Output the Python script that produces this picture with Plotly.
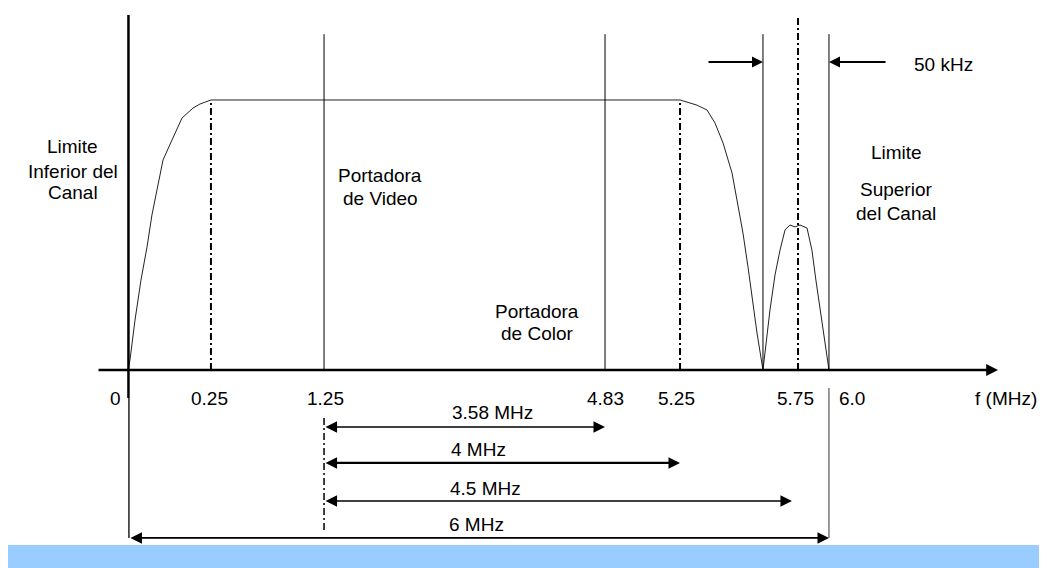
import plotly.graph_objects as go

# ---------------- data (schematic, not-to-scale drawing units) ----------------
# Frequency marks shown under the axis and where they sit on the schematic axis
tick_labels = ["0", "0.25", "1.25", "4.83", "5.25", "5.75", "6.0"]
tick_pos = [0.0, 0.71, 1.678, 4.083, 4.725, 5.735, 6.0]

# Channel response curve (relative amplitude)
curve_x = [0.000, 0.017, 0.060, 0.111, 0.163, 0.205, 0.248, 0.300, 0.377, 0.462,
           0.556, 0.616, 0.710,
           4.725, 4.870, 4.956, 5.024, 5.093, 5.170, 5.213, 5.264, 5.307, 5.384, 5.435,
           5.495, 5.538, 5.581, 5.624, 5.666, 5.709, 5.752, 5.812, 5.854, 5.888, 5.923, 6.000]
curve_y = [0.000, 0.037, 0.185, 0.333, 0.456, 0.574, 0.667, 0.778, 0.852, 0.933,
           0.970, 0.985, 1.000,
           1.000, 0.981, 0.963, 0.915, 0.841, 0.730, 0.630, 0.507, 0.381, 0.137, 0.000,
           0.222, 0.352, 0.444, 0.519, 0.537, 0.530, 0.537, 0.526, 0.444, 0.333, 0.233, 0.000]

# Carrier / limit lines (solid) and reference lines (dash-dot)
solid_lines = [1.678, 4.083, 5.435, 6.0]
dashdot_lines = [0.71, 4.725, 5.735]

# Bandwidth spans (label, start, end)
span_labels = ["3.58 MHz", "4 MHz", "4.5 MHz", "6 MHz"]
span_start = [1.678, 1.678, 1.678, 0.008]
span_end = [4.083, 4.725, 5.683, 6.0]

FONT = "Liberation Sans, Arial, sans-serif"
FS = 19

fig = go.Figure()
fig.add_trace(go.Scatter(x=curve_x, y=curve_y, mode="lines",
                         line=dict(color="#222222", width=1), hoverinfo="skip"))

shapes = []
# light blue band at bottom
shapes.append(dict(type="rect", xref="paper", yref="paper", x0=0, x1=1, y0=0, y1=0.041,
                   fillcolor="#99CCFF", line=dict(width=0), layer="below"))
# vertical axis (thick above, thin below)
shapes.append(dict(type="line", x0=0.004, x1=0.004, y0=-0.104, y1=1.315,
                   line=dict(color="black", width=2.5)))
shapes.append(dict(type="line", x0=0.008, x1=0.008, y0=-0.622, y1=-0.104,
                   line=dict(color="black", width=1.3)))
for xp in solid_lines:
    shapes.append(dict(type="line", x0=xp, x1=xp, y0=0, y1=1.244,
                       line=dict(color="black", width=1)))
dd = "7px,3px,2px,3px"
for xp in dashdot_lines:
    top = 1.315 if xp == dashdot_lines[-1] else 1.0
    shapes.append(dict(type="line", x0=xp, x1=xp, y0=0, y1=top,
                       line=dict(color="black", width=2, dash=dd)))
# extension lines below the axis
shapes.append(dict(type="line", x0=6.0, x1=6.0, y0=-0.622, y1=-0.067,
                   line=dict(color="#333333", width=1)))
shapes.append(dict(type="line", x0=1.678, x1=1.678, y0=-0.593, y1=-0.174,
                   line=dict(color="black", width=1.5, dash=dd)))

ann = []
def arrow(x0, y0, x1, y1, both=False, w=2, size=1.0):
    ann.append(dict(x=x1, y=y1, ax=x0, ay=y0, xref="x", yref="y", axref="x", ayref="y",
                    text="", showarrow=True, arrowhead=2, startarrowhead=2,
                    arrowside="end+start" if both else "end",
                    arrowwidth=w, arrowsize=size, startarrowsize=size,
                    arrowcolor="black", standoff=0, startstandoff=0))

def label(x, y, t, xanchor="center", xshift=0):
    ann.append(dict(x=x, y=y, xref="x", yref="y", text=t, showarrow=False,
                    xanchor=xanchor, yanchor="middle", xshift=xshift,
                    font=dict(family=FONT, size=FS, color="black")))

# horizontal axis with arrow
arrow(-0.265, 0, 7.447, 0, w=2.5, size=0.95)
label(7.515, -0.104, "f (MHz)")

# tick labels
for lab, xp in zip(tick_labels, tick_pos):
    if lab == "0":
        label(xp, -0.104, lab, xanchor="right", xshift=-5)
    elif lab == "6.0":
        label(xp, -0.104, lab, xanchor="left", xshift=8)
    else:
        shift = {"0.25": -1, "1.25": 1, "5.25": -4, "5.75": -3}.get(lab, 0)
        label(xp, -0.104, lab, xshift=shift)

# 50 kHz arrows
arrow(4.956, 1.141, 5.435, 1.141, w=2, size=1.1)
arrow(6.497, 1.141, 6.0, 1.141, w=2, size=1.1)
label(6.976, 1.133, "50 kHz")

# bandwidth spans
span_y = [-0.211, -0.344, -0.485, -0.622]
span_label_pos = [(3.124, -0.156), (2.996, -0.293), (3.056, -0.437), (2.987, -0.574)]
span_w = [1.6, 2.2, 1.6, 1.8]
for lab, s, e, yy, (lx, ly), w in zip(span_labels, span_start, span_end, span_y, span_label_pos, span_w):
    arrow(s, yy, e, yy, both=True, w=w, size=2.3 / w)
    label(lx, ly, lab)

# descriptive texts
label(-0.471, 0.826, "Limite")
label(-0.471, 0.737, "Inferior del")
label(-0.471, 0.656, "Canal")
label(2.157, 0.722, "Portadora")
label(2.157, 0.637, "de Video")
label(3.501, 0.215, "Portadora")
label(3.501, 0.137, "de Color")
label(6.574, 0.804, "Limite")
label(6.574, 0.667, "Superior")
label(6.574, 0.581, "del Canal")

# the page body adds an 8 px margin, so the figure is 8 px smaller each way
fig.update_layout(
    width=1039, height=560,
    margin=dict(l=0, r=0, t=0, b=0),
    paper_bgcolor="white", plot_bgcolor="white",
    showlegend=False,
    xaxis=dict(visible=False, range=[-1.0271, 7.8661], fixedrange=True),
    yaxis=dict(visible=False, range=[-0.7333, 1.3407], fixedrange=True),
    shapes=shapes,
    annotations=ann,
)

fig.write_html("out.html")
